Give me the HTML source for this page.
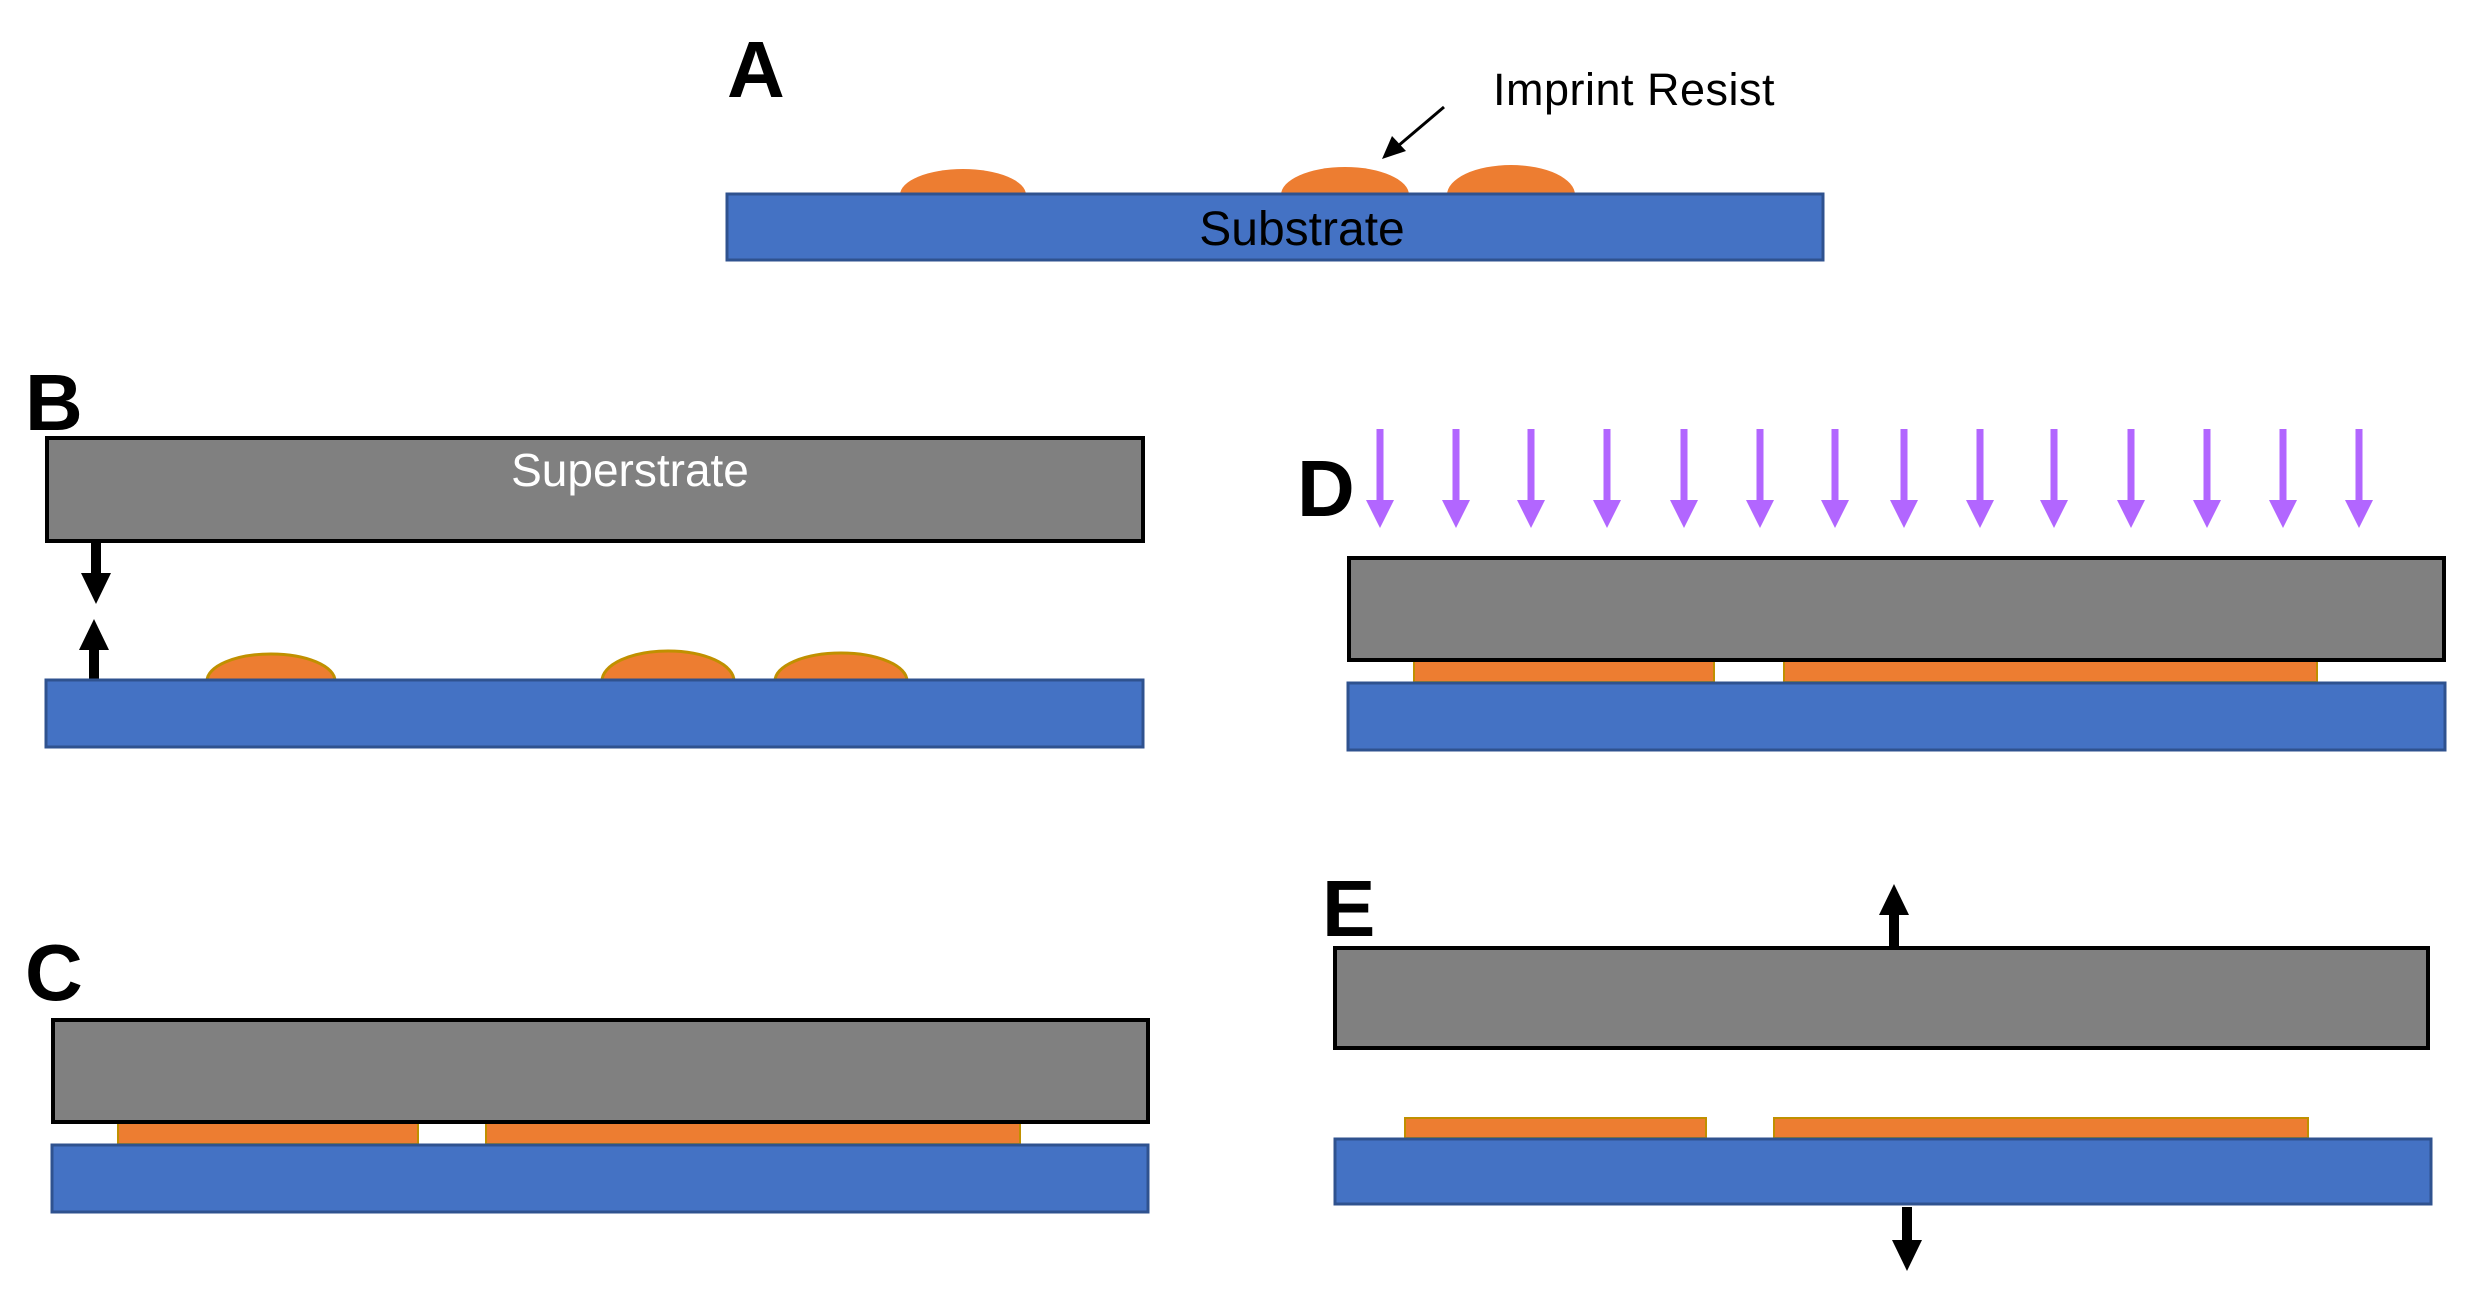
<!DOCTYPE html>
<html><head><style>
html,body{margin:0;padding:0;background:#fff;}
svg{display:block;}
text{font-family:"Liberation Sans",sans-serif;}
</style></head><body>
<svg width="2475" height="1297" viewBox="0 0 2475 1297" xmlns="http://www.w3.org/2000/svg">
<defs>
<g id="pa"><rect x="-3.5" y="0" width="7" height="72" fill="#b266ff"/><polygon points="-14,71 14,71 0,99" fill="#b266ff"/></g>
</defs>
<!-- A -->
<text x="727" y="97" font-size="80" font-weight="bold">A</text>
<ellipse cx="963" cy="195" rx="63" ry="26" fill="#ed7d31"/>
<ellipse cx="1345" cy="195" rx="64" ry="28" fill="#ed7d31"/>
<ellipse cx="1511" cy="195" rx="64" ry="30" fill="#ed7d31"/>
<rect x="727" y="194" width="1096" height="66" fill="#4472c4" stroke="#2f528f" stroke-width="3"/>
<text x="1302" y="245" font-size="48" text-anchor="middle" fill="#000">Substrate</text>
<text x="1493" y="105" font-size="45" letter-spacing="0.5">Imprint Resist</text>
<line x1="1444" y1="107" x2="1398" y2="146" stroke="#000" stroke-width="3"/>
<polygon points="1382,159 1392,136 1406,151" fill="#000"/>
<!-- B -->
<text x="25" y="430" font-size="80" font-weight="bold">B</text>
<rect x="47" y="438" width="1096" height="103" fill="#808080" stroke="#000" stroke-width="4"/>
<text x="630" y="486" font-size="46" text-anchor="middle" fill="#fff">Superstrate</text>
<rect x="91" y="543" width="10" height="30" fill="#000"/><polygon points="81,573 111,573 96,604" fill="#000"/>
<rect x="89" y="649" width="10" height="30" fill="#000"/><polygon points="79,650 109,650 94,619" fill="#000"/>
<ellipse cx="271" cy="681" rx="64" ry="27" fill="#ed7d31" stroke="#c09000" stroke-width="3"/>
<ellipse cx="668" cy="681" rx="66" ry="30" fill="#ed7d31" stroke="#c09000" stroke-width="3"/>
<ellipse cx="841" cy="681" rx="66" ry="28" fill="#ed7d31" stroke="#c09000" stroke-width="3"/>
<rect x="46" y="680" width="1097" height="67" fill="#4472c4" stroke="#2f528f" stroke-width="3"/>
<!-- C -->
<text x="25" y="1000" font-size="80" font-weight="bold">C</text>
<rect x="118" y="1120" width="300" height="24" fill="#ed7d31" stroke="#c09000" stroke-width="2"/>
<rect x="486" y="1120" width="534" height="24" fill="#ed7d31" stroke="#c09000" stroke-width="2"/>
<rect x="53" y="1020" width="1095" height="102" fill="#808080" stroke="#000" stroke-width="4"/>
<rect x="52" y="1145" width="1096" height="67" fill="#4472c4" stroke="#2f528f" stroke-width="3"/>
<!-- D -->
<text x="1297" y="516" font-size="80" font-weight="bold">D</text>
<g transform="translate(0,429)">
<use href="#pa" x="1380"/><use href="#pa" x="1456"/><use href="#pa" x="1531"/><use href="#pa" x="1607"/>
<use href="#pa" x="1684"/><use href="#pa" x="1760"/><use href="#pa" x="1835"/><use href="#pa" x="1904"/>
<use href="#pa" x="1980"/><use href="#pa" x="2054"/><use href="#pa" x="2131"/><use href="#pa" x="2207"/>
<use href="#pa" x="2283"/><use href="#pa" x="2359"/>
</g>
<rect x="1414" y="658" width="300" height="24" fill="#ed7d31" stroke="#c09000" stroke-width="2"/>
<rect x="1784" y="658" width="533" height="24" fill="#ed7d31" stroke="#c09000" stroke-width="2"/>
<rect x="1349" y="558" width="1095" height="102" fill="#808080" stroke="#000" stroke-width="4"/>
<rect x="1348" y="683" width="1097" height="67" fill="#4472c4" stroke="#2f528f" stroke-width="3"/>
<!-- E -->
<text x="1322" y="936" font-size="80" font-weight="bold">E</text>
<rect x="1889" y="914" width="10" height="34" fill="#000"/><polygon points="1879,915 1909,915 1894,884" fill="#000"/>
<rect x="1335" y="948" width="1093" height="100" fill="#808080" stroke="#000" stroke-width="4"/>
<rect x="1405" y="1118" width="301" height="20" fill="#ed7d31" stroke="#c09000" stroke-width="2"/>
<rect x="1774" y="1118" width="534" height="20" fill="#ed7d31" stroke="#c09000" stroke-width="2"/>
<rect x="1335" y="1139" width="1096" height="65" fill="#4472c4" stroke="#2f528f" stroke-width="3"/>
<rect x="1902" y="1207" width="10" height="34" fill="#000"/><polygon points="1892,1240 1922,1240 1907,1271" fill="#000"/>
</svg>
</body></html>
